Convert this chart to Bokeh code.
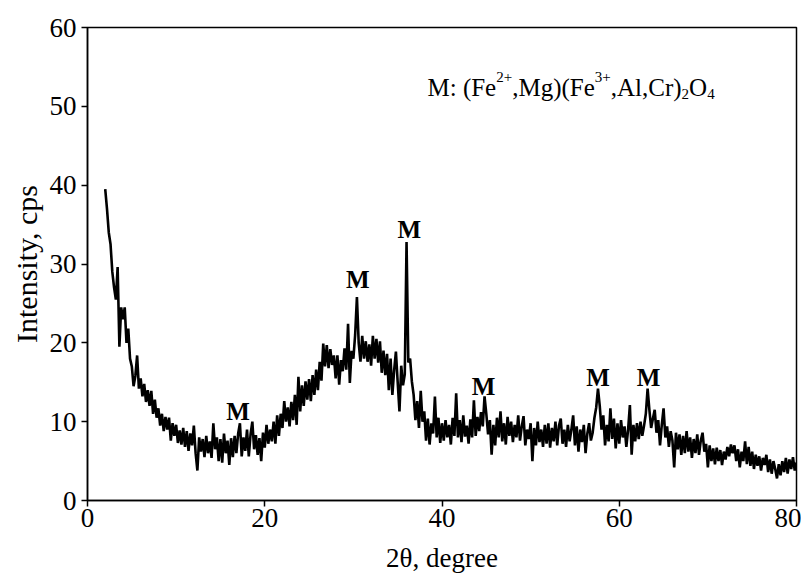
from bokeh.plotting import figure
from bokeh.models import Range1d, Label, FixedTicker
from bokeh.embed import file_html
from bokeh.resources import INLINE

# ---- data ----
two_theta_start = 2.0
two_theta_step = 0.2
intensity = [
    39.5, 37.0, 34.0, 32.5, 29.0,   # 2
    27.0, 25.5, 29.6, 19.5, 24.5,   # 3
    23.0, 24.5, 20.0, 21.8, 18.0,   # 4
    17.0, 14.5, 15.8, 18.4, 14.2,   # 5
    15.5, 13.2, 14.8, 12.5, 14.0,   # 6
    12.0, 13.9, 11.0, 12.8, 10.5,   # 7
    11.7, 9.5, 11.0, 8.8, 10.6,     # 8
    9.0, 10.5, 7.6, 9.8, 8.2,       # 9
    9.6, 7.3, 8.9, 7.1, 9.2,        # 10
    6.8, 8.8, 6.3, 8.5, 7.0,        # 11
    9.5, 6.0, 3.8, 8.0, 6.2,        # 12
    7.8, 5.5, 8.2, 6.0, 7.5,        # 13
    5.4, 9.8, 6.5, 8.0, 5.0,        # 14
    7.8, 4.8, 8.5, 6.0, 7.6,        # 15
    4.5, 7.9, 5.5, 8.2, 6.0,        # 16
    8.5, 9.8, 5.6, 8.0, 6.3,        # 17
    9.0, 5.6, 8.4, 10.0, 6.5,       # 18
    8.3, 5.8, 7.9, 5.0, 8.6,        # 19
    6.7, 9.6, 7.2, 9.0, 7.5,        # 20
    10.0, 7.2, 10.8, 8.2, 11.0,     # 21
    9.2, 12.6, 10.0, 11.8, 9.4,     # 22
    12.5, 10.2, 13.4, 9.6, 15.7,    # 23
    11.3, 14.6, 12.0, 15.1, 12.8,   # 24
    15.4, 12.6, 15.9, 13.4, 16.6,   # 25
    14.0, 17.6, 15.2, 19.9, 17.0,   # 26
    19.7, 16.8, 19.2, 17.2, 18.4,   # 27
    15.5, 18.4, 14.7, 17.8, 16.4,   # 28
    19.3, 16.6, 22.4, 14.9, 19.0,   # 29
    18.0, 21.0, 25.8, 20.0, 17.6,   # 30
    20.9, 18.0, 20.2, 17.6, 19.8,   # 31
    17.1, 20.9, 18.0, 20.5, 17.5,   # 32
    20.2, 16.2, 19.0, 15.9, 18.6,   # 33
    14.0, 18.0, 13.4, 16.5, 18.9,   # 34
    15.0, 11.3, 17.1, 14.6, 16.0,   # 35
    32.8, 17.5, 18.0, 15.1, 13.4,   # 36
    10.2, 12.6, 9.2, 13.9, 10.0,    # 37
    11.3, 7.6, 10.4, 7.1, 9.8,      # 38
    8.5, 13.2, 8.0, 10.5, 7.3,      # 39
    9.8, 7.6, 10.2, 8.0, 9.6,       # 40
    7.1, 10.5, 8.2, 13.6, 8.0,      # 41
    10.2, 7.4, 10.8, 8.1, 9.5,      # 42
    7.2, 10.3, 8.0, 12.7, 8.2,      # 43
    10.6, 8.8, 11.2, 9.4, 13.2,     # 44
    11.0, 8.4, 10.2, 5.8, 9.6,      # 45
    7.0, 10.5, 8.0, 11.3, 7.5,      # 46
    9.8, 7.1, 10.6, 8.2, 10.0,      # 47
    7.4, 9.6, 8.0, 10.8, 7.6,       # 48
    9.4, 10.7, 7.0, 9.0, 7.8,       # 49
    9.8, 5.0, 9.2, 7.0, 10.0,       # 50
    7.4, 9.0, 6.8, 9.6, 7.2,        # 51
    9.8, 6.7, 9.2, 7.5, 10.0,       # 52
    7.0, 9.5, 10.4, 7.2, 9.0,       # 53
    6.8, 9.6, 7.5, 9.0, 10.8,       # 54
    7.0, 9.4, 6.2, 9.0, 7.4,        # 55
    9.6, 6.0, 8.5, 9.8, 7.6,        # 56
    8.6, 10.5, 11.8, 14.2, 12.0,    # 57
    9.0, 10.8, 7.0, 9.6, 7.5,       # 58
    11.7, 7.8, 10.4, 6.6, 9.8,      # 59
    7.2, 10.2, 8.0, 9.4, 6.8,       # 60
    9.0, 12.1, 5.8, 9.6, 7.5,       # 61
    9.8, 7.8, 10.0, 8.2, 9.5,       # 62
    11.0, 14.2, 11.5, 9.2, 10.4,    # 63
    11.5, 8.6, 10.2, 7.0, 9.6,      # 64
    11.7, 8.0, 9.4, 6.8, 8.8,       # 65
    7.6, 4.2, 8.6, 6.5, 8.4,        # 66
    5.8, 8.2, 6.0, 8.8, 6.2,        # 67
    8.0, 5.4, 7.8, 6.0, 8.4,        # 68
    5.8, 7.6, 8.6, 6.2, 7.2,        # 69
    4.2, 7.0, 5.0, 6.6, 4.6,        # 70
    6.7, 5.0, 6.4, 4.5, 6.2,        # 71
    5.2, 6.8, 5.6, 7.1, 6.0,        # 72
    7.0, 5.0, 6.5, 4.2, 6.2,        # 73
    5.0, 7.5, 4.6, 6.8, 4.4,        # 74
    6.2, 4.0, 5.8, 4.4, 5.6,        # 75
    3.8, 5.4, 4.5, 5.8, 3.6,        # 76
    5.2, 3.4, 5.0, 4.0, 2.8,        # 77
    4.6, 3.2, 5.0, 3.6, 5.4,        # 78
    3.4, 5.2, 4.0, 5.5, 3.8,        # 79
    4.8,                            # 80
]
two_theta = [round(two_theta_start + two_theta_step * i, 2) for i in range(len(intensity))]

peak_labels_x = [17.0, 30.5, 36.3, 44.7, 57.6, 63.3]
peak_labels_y = [11.3, 28.0, 34.4, 14.4, 15.6, 15.6]
peak_label_text = ["M", "M", "M", "M", "M", "M"]

x_ticks = [0, 20, 40, 60, 80]
y_ticks = [0, 10, 20, 30, 40, 50, 60]

FONT = "Liberation Serif"

p = figure(width=801, height=575, x_range=Range1d(0, 80), y_range=Range1d(0, 60),
           output_backend="svg", toolbar_location=None,
           min_border_left=87, min_border_right=5, min_border_top=27, min_border_bottom=73)
p.grid.visible = False
p.outline_line_color = "black"
p.outline_line_width = 1.5
p.background_fill_color = "white"
p.border_fill_color = "white"

p.line(two_theta, intensity, line_color="black", line_width=2.6)

for ax, ticks in ((p.xaxis, x_ticks), (p.yaxis, y_ticks)):
    ax.ticker = FixedTicker(ticks=ticks)
    ax.minor_tick_line_color = None
    ax.major_tick_in = 0
    ax.major_tick_out = 6
    ax.major_tick_line_width = 1.5
    ax.axis_line_width = 1.5
    ax.axis_line_color = "black"
    ax.major_tick_line_color = "black"
    ax.major_label_text_font = FONT
    ax.major_label_text_font_size = "27px"
    ax.major_label_text_color = "black"
    ax.axis_label_text_font = FONT
    ax.axis_label_text_font_style = "normal"
    ax.axis_label_text_color = "black"

p.xaxis.axis_label = "2θ, degree"
p.xaxis.axis_label_text_font_size = "27px"
p.xaxis.axis_label_standoff = 13
p.xaxis.major_label_standoff = 2
p.yaxis.axis_label = "Intensity, cps"
p.yaxis.axis_label_text_font_size = "30px"
p.yaxis.axis_label_standoff = 4
p.yaxis.major_label_standoff = 5

for lx, ly, lt in zip(peak_labels_x, peak_labels_y, peak_label_text):
    p.add_layout(Label(x=lx, y=ly, text=lt, text_font=FONT, text_font_size="25px",
                       text_font_style="bold",
                       text_align="center", text_baseline="alphabetic", text_color="black"))

# formula legend text  M: (Fe2+,Mg)(Fe3+,Al,Cr)2O4
fx, fy = 38.36, 52.4
pieces = [
    ("M: (Fe", 0.0, 0, "25px"),
    ("2+", 68.75, 10, "15px"),
    (",Mg)(Fe", 84.75, 0, "25px"),
    ("3+", 167.35, 10, "15px"),
    (",Al,Cr)", 183.35, 0, "25px"),
    ("2", 254.15, -7, "15px"),
    ("O", 261.65, 0, "25px"),
    ("4", 279.7, -7, "15px"),
]
for txt, dx, dy, fs in pieces:
    p.add_layout(Label(x=fx, y=fy, x_offset=dx, y_offset=dy, text=txt, text_font=FONT,
                       text_font_size=fs, text_align="left", text_baseline="alphabetic",
                       text_color="black"))

open("out.html", "w").write(file_html(p, INLINE))
